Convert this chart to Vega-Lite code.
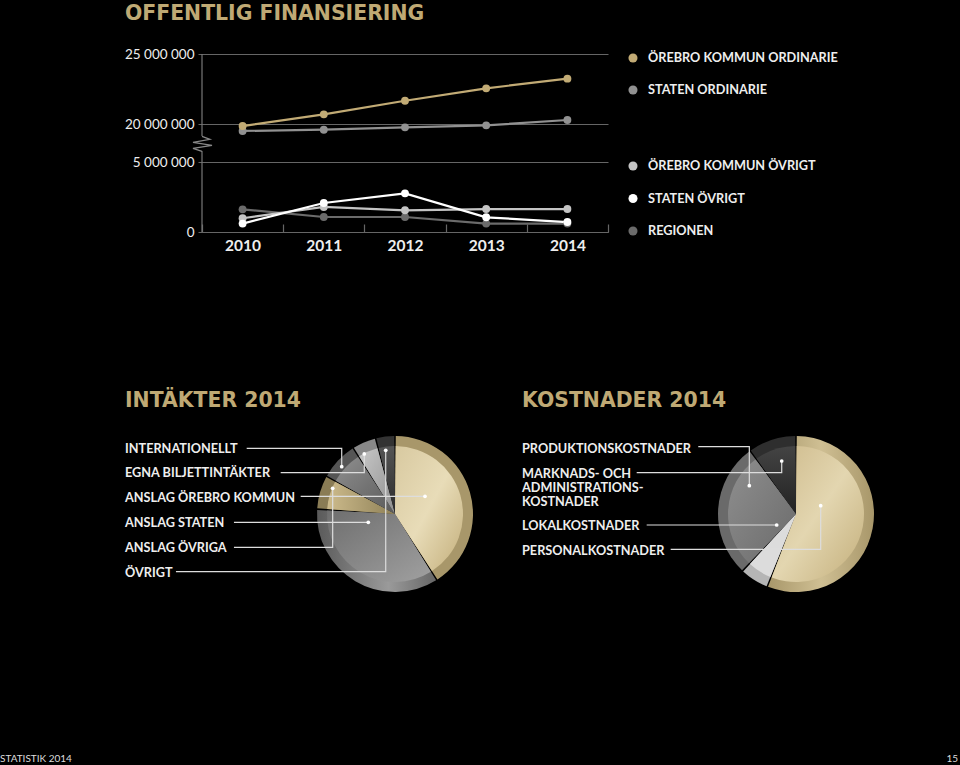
{
"$schema":"https://vega.github.io/schema/vega-lite/v6.json",
"width":960,"height":765,"padding":0,"autosize":{"type":"none","contains":"padding"},"background":"#000000",
"config":{"view":{"stroke":null},"text":{"font":"Lato"}},
"datasets":{
"series":[
{"year":"2010","series":"REGIONEN","value":1620000},{"year":"2011","series":"REGIONEN","value":1070000},{"year":"2012","series":"REGIONEN","value":1070000},{"year":"2013","series":"REGIONEN","value":600000},{"year":"2014","series":"REGIONEN","value":600000},
{"year":"2010","series":"STATEN ORDINARIE","value":19530000},{"year":"2011","series":"STATEN ORDINARIE","value":19620000},{"year":"2012","series":"STATEN ORDINARIE","value":19790000},{"year":"2013","series":"STATEN ORDINARIE","value":19930000},{"year":"2014","series":"STATEN ORDINARIE","value":20310000},
{"year":"2010","series":"ÖREBRO KOMMUN ORDINARIE","value":19880000},{"year":"2011","series":"ÖREBRO KOMMUN ORDINARIE","value":20710000},{"year":"2012","series":"ÖREBRO KOMMUN ORDINARIE","value":21680000},{"year":"2013","series":"ÖREBRO KOMMUN ORDINARIE","value":22560000},{"year":"2014","series":"ÖREBRO KOMMUN ORDINARIE","value":23250000},
{"year":"2010","series":"ÖREBRO KOMMUN ÖVRIGT","value":980000},{"year":"2011","series":"ÖREBRO KOMMUN ÖVRIGT","value":1790000},{"year":"2012","series":"ÖREBRO KOMMUN ÖVRIGT","value":1550000},{"year":"2013","series":"ÖREBRO KOMMUN ÖVRIGT","value":1640000},{"year":"2014","series":"ÖREBRO KOMMUN ÖVRIGT","value":1640000},
{"year":"2010","series":"STATEN ÖVRIGT","value":600000},{"year":"2011","series":"STATEN ÖVRIGT","value":2070000},{"year":"2012","series":"STATEN ÖVRIGT","value":2760000},{"year":"2013","series":"STATEN ÖVRIGT","value":1050000},{"year":"2014","series":"STATEN ÖVRIGT","value":710000}
],
"legend":[{"series":"ÖREBRO KOMMUN ORDINARIE","order":1},{"series":"STATEN ORDINARIE","order":2},{"series":"ÖREBRO KOMMUN ÖVRIGT","order":3},{"series":"STATEN ÖVRIGT","order":4},{"series":"REGIONEN","order":5}],
"income":[{"order":1,"label":"ANSLAG ÖREBRO KOMMUN","share":41},{"order":2,"label":"ANSLAG STATEN","share":35},{"order":3,"label":"ANSLAG ÖVRIGA","share":7},{"order":4,"label":"INTERNATIONELLT","share":8},{"order":5,"label":"EGNA BILJETTINTÄKTER","share":5},{"order":6,"label":"ÖVRIGT","share":4}],
"costs":[{"order":1,"label":"PERSONALKOSTNADER","share":56},{"order":2,"label":"LOKALKOSTNADER","share":6},{"order":3,"label":"PRODUKTIONSKOSTNADER","share":28},{"order":4,"label":"MARKNADS","share":10}],
"incomeLeaders":[
{"label":"INTERNATIONELLT","step":0,"u":-1.854,"v":-0.684},{"label":"INTERNATIONELLT","step":1,"u":-0.666,"v":-0.684},{"label":"INTERNATIONELLT","step":2,"u":-0.666,"v":-0.454,"end":true},
{"label":"EGNA","step":0,"u":-1.429,"v":-0.379},{"label":"EGNA","step":1,"u":-0.384,"v":-0.379},{"label":"EGNA","step":2,"u":-0.384,"v":-0.613,"end":true},
{"label":"ÖREBRO","step":0,"u":-1.179,"v":-0.084},{"label":"ÖREBRO","step":1,"u":0.375,"v":-0.084,"end":true},
{"label":"STATEN","step":0,"u":-2.013,"v":0.241},{"label":"STATEN","step":1,"u":-0.334,"v":0.241,"end":true},
{"label":"ÖVRIGA","step":0,"u":-2.013,"v":0.554},{"label":"ÖVRIGA","step":1,"u":-0.779,"v":0.554},{"label":"ÖVRIGA","step":2,"u":-0.779,"v":-0.184,"end":true},
{"label":"ÖVRIGT","step":0,"u":-2.738,"v":0.859},{"label":"ÖVRIGT","step":1,"u":-0.116,"v":0.859},{"label":"ÖVRIGT","step":2,"u":-0.116,"v":-0.659,"end":true}
],
"costLeaders":[
{"label":"PROD","step":0,"u":-1.234,"v":-0.704},{"label":"PROD","step":1,"u":-0.596,"v":-0.704},{"label":"PROD","step":2,"u":-0.596,"v":-0.216,"end":true},
{"label":"MARK","step":0,"u":-2.004,"v":-0.379},{"label":"MARK","step":1,"u":-0.191,"v":-0.379},{"label":"MARK","step":2,"u":-0.191,"v":-0.525,"end":true},
{"label":"LOKAL","step":0,"u":-1.879,"v":0.275},{"label":"LOKAL","step":1,"u":-0.254,"v":0.275,"end":true},
{"label":"PERS","step":0,"u":-1.579,"v":0.579},{"label":"PERS","step":1,"u":0.296,"v":0.579},{"label":"PERS","step":2,"u":0.296,"v":0.034,"end":true}
]
},
"resolve":{"scale":{"x":"independent","y":"independent","theta":"independent"},"axis":{"x":"independent","y":"independent"}},
"layer":[
{"data":{"values":[{"t":"OFFENTLIG FINANSIERING","col":0,"row":0},{"t":"INTÄKTER 2014","col":0,"row":1},{"t":"KOSTNADER 2014","col":1,"row":1}]},
 "mark":{"type":"text","align":"left","baseline":"middle","font":"DejaVu Sans","fontWeight":"bold","fontSize":20.4,"fill":"#bfa974"},
 "encoding":{"text":{"field":"t"},"x":{"field":"col","type":"quantitative","scale":{"domain":[0,1],"range":[125,522]},"axis":null},"y":{"field":"row","type":"quantitative","scale":{"domain":[0,1],"range":[14,401]},"axis":null}}},
{"layer":[
 {"data":{"values":[{"t":"STATISTIK 2014","col":0}]},
 "mark":{"type":"text","align":"left","baseline":"middle","font":"Lato","fontSize":10,"fill":"#dddddd"},
 "encoding":{"text":{"field":"t"},"x":{"field":"col","type":"quantitative","scale":{"domain":[0,1],"range":[0,958]},"axis":null},"y":{"datum":0,"type":"quantitative","scale":{"domain":[0,1],"range":[759,760]},"axis":null}}},
 {"data":{"values":[{"t":"15","col":1}]},
 "mark":{"type":"text","align":"right","baseline":"middle","font":"Lato","fontSize":10,"fill":"#dddddd"},
 "encoding":{"text":{"field":"t"},"x":{"field":"col","type":"quantitative"},"y":{"datum":0,"type":"quantitative"}}}
]},
{"layer":[
 {"data":{"name":"series"},
  "mark":{"type":"line","strokeWidth":2.2},
  "encoding":{
   "x":{"field":"year","type":"ordinal","scale":{"type":"band","range":[202,608],"paddingInner":0,"paddingOuter":0},"axis":{"title":null,"orient":"bottom","offset":-533,"labelAngle":0,"tickBand":"extent","tickSize":-8,"tickWidth":1.2,"tickColor":"#666666","domainColor":"#777777","domainWidth":1.2,"labelColor":"#eeeeee","labelFont":"Lato","labelFontWeight":"bold","labelFontSize":15.5,"labelPadding":14}},
   "y":{"field":"value","type":"quantitative","scale":{"domain":[0,5000000,18000000,25000000],"range":[232,162,152.5,54],"nice":false,"zero":false},"axis":{"title":null,"orient":"left","offset":-198,"values":[0,5000000,20000000,25000000],"domain":false,"grid":false,"tickSize":-410,"tickWidth":1.2,"tickColor":"#666666","labelExpr":"replace(format(datum.value,','),/,/g,' ')","labelColor":"#eeeeee","labelFont":"Lato","labelFontSize":13.5,"labelPadding":414}},
   "color":{"field":"series","type":"nominal","legend":null,"scale":{"domain":["ÖREBRO KOMMUN ORDINARIE","STATEN ORDINARIE","ÖREBRO KOMMUN ÖVRIGT","STATEN ÖVRIGT","REGIONEN"],"range":["#c2ab75","#919191","#c4c4c4","#ffffff","#6b6b6b"]}}}},
 {"data":{"name":"series"},
  "mark":{"type":"point","filled":true,"opacity":1,"size":62},
  "encoding":{"x":{"field":"year","type":"ordinal"},"y":{"field":"value","type":"quantitative"},"color":{"field":"series","type":"nominal","legend":null}}},
 {"data":{"values":[{"top":25000000,"bottom":19180000},{"top":18100000,"bottom":0}]},
  "mark":{"type":"rule","stroke":"#777777","strokeWidth":1.2},
  "encoding":{"x":{"datum":"2010","type":"ordinal","bandPosition":0},"y":{"field":"top","type":"quantitative"},"y2":{"field":"bottom"}}},
 {"data":{"values":[{"value":18650000}]},
  "mark":{"type":"point","filled":false,"opacity":1,"size":400,"stroke":"#888888","strokeWidth":1.2,"shape":"M0,-0.7L0.8,-0.4L-0.9,-0.1L1,0.2L-0.9,0.5L0,0.8"},
  "encoding":{"x":{"datum":"2010","type":"ordinal","bandPosition":0},"y":{"field":"value","type":"quantitative"}}}
]},
{"layer":[
 {"data":{"name":"legend"},
  "mark":{"type":"point","filled":true,"opacity":1,"size":82},
  "encoding":{"x":{"datum":0,"type":"quantitative","scale":{"domain":[0,1],"range":[633,648]},"axis":null},
   "y":{"field":"order","type":"quantitative","scale":{"domain":[1,2,3,4,5],"range":[58,90,166,198.5,231],"nice":false,"zero":false},"axis":null},
   "fill":{"field":"series","type":"nominal","legend":null,"scale":{"domain":["ÖREBRO KOMMUN ORDINARIE","STATEN ORDINARIE","ÖREBRO KOMMUN ÖVRIGT","STATEN ÖVRIGT","REGIONEN"],"range":["#c2ab75","#919191","#c4c4c4","#ffffff","#6b6b6b"]}}}},
 {"data":{"name":"legend"},
  "mark":{"type":"text","align":"left","baseline":"middle","font":"Lato","fontWeight":"bold","fontSize":12.7,"fill":"#eeeeee"},
  "encoding":{"text":{"field":"series"},"x":{"datum":1,"type":"quantitative"},"y":{"field":"order","type":"quantitative"}}}
]},
{"layer":[
 {"data":{"name":"income"},
  "mark":{"type":"arc","outerRadius":78,"padAngle":0.02},
  "encoding":{
   "theta":{"field":"share","type":"quantitative","stack":true,"scale":{"domain":[0,100]}},
   "order":{"field":"order"},"detail":{"field":"label"},
   "x":{"datum":0,"type":"quantitative","scale":{"domain":[0,1],"range":[395,396]},"axis":null},
   "y":{"datum":0,"type":"quantitative","scale":{"domain":[0,1],"range":[514,515]},"axis":null},
   "fill":{"condition":[{"test":"datum.order==1","value":"#a8976a"},{"test":"datum.order==2","value":{"x1":0,"x2":1,"y1":0,"y2":0,"gradient":"linear","stops":[{"offset":0,"color":"#5a5a5a"},{"offset":0.6,"color":"#9a9a9a"},{"offset":1,"color":"#666666"}]}},{"test":"datum.order==3","value":"#8a7c55"},{"test":"datum.order==4","value":"#555555"},{"test":"datum.order==5","value":"#888888"}],"value":"#333333"}}},
 {"data":{"name":"income"},
  "mark":{"type":"arc","outerRadius":68,"padAngle":0.02},
  "encoding":{
   "theta":{"field":"share","type":"quantitative","stack":true,"scale":{"domain":[0,100]}},
   "order":{"field":"order"},"detail":{"field":"label"},
   "x":{"datum":0,"type":"quantitative","scale":{"domain":[0,1],"range":[395,396]},"axis":null},
   "y":{"datum":0,"type":"quantitative","scale":{"domain":[0,1],"range":[506,507]},"axis":null},
   "fill":{"condition":[{"test":"datum.order==1","value":{"x1":0,"x2":1,"y1":0,"y2":1,"gradient":"linear","stops":[{"offset":0,"color":"#d8c9a0"},{"offset":0.5,"color":"#e8dcb8"},{"offset":1,"color":"#c3ae7a"}]}},{"test":"datum.order==2","value":{"x1":0,"x2":1,"y1":0,"y2":1,"gradient":"linear","stops":[{"offset":0,"color":"#6e6e6e"},{"offset":1,"color":"#a0a0a0"}]}},{"test":"datum.order==3","value":{"x1":0,"x2":1,"y1":0,"y2":0,"gradient":"linear","stops":[{"offset":0,"color":"#cdbb8c"},{"offset":1,"color":"#8f8157"}]}},{"test":"datum.order==4","value":{"x1":0,"x2":1,"y1":0,"y2":1,"gradient":"linear","stops":[{"offset":0,"color":"#8f8f8f"},{"offset":1,"color":"#5a5a5a"}]}},{"test":"datum.order==5","value":{"x1":0,"x2":1,"y1":0,"y2":1,"gradient":"linear","stops":[{"offset":0,"color":"#c8c8c8"},{"offset":1,"color":"#8f8f8f"}]}}],"value":{"x1":0,"x2":0,"y1":0,"y2":1,"gradient":"linear","stops":[{"offset":0,"color":"#555555"},{"offset":1,"color":"#2a2a2a"}]}}}}
]},
{"layer":[
 {"data":{"name":"costs"},
  "mark":{"type":"arc","outerRadius":78,"padAngle":0.02},
  "encoding":{
   "theta":{"field":"share","type":"quantitative","stack":true,"scale":{"domain":[0,100]}},
   "order":{"field":"order"},"detail":{"field":"label"},
   "x":{"datum":0,"type":"quantitative","scale":{"domain":[0,1],"range":[796,797]},"axis":null},
   "y":{"datum":0,"type":"quantitative","scale":{"domain":[0,1],"range":[514,515]},"axis":null},
   "fill":{"condition":[{"test":"datum.order==1","value":{"x1":0,"x2":1,"y1":0,"y2":0,"gradient":"linear","stops":[{"offset":0,"color":"#a8976a"},{"offset":0.5,"color":"#cfbf93"},{"offset":1,"color":"#a8976a"}]}},{"test":"datum.order==2","value":"#b5b5b5"},{"test":"datum.order==3","value":"#6a6a6a"}],"value":"#2e2e2e"}}},
 {"data":{"name":"costs"},
  "mark":{"type":"arc","outerRadius":68,"padAngle":0.02},
  "encoding":{
   "theta":{"field":"share","type":"quantitative","stack":true,"scale":{"domain":[0,100]}},
   "order":{"field":"order"},"detail":{"field":"label"},
   "x":{"datum":0,"type":"quantitative","scale":{"domain":[0,1],"range":[796,797]},"axis":null},
   "y":{"datum":0,"type":"quantitative","scale":{"domain":[0,1],"range":[506,507]},"axis":null},
   "fill":{"condition":[{"test":"datum.order==1","value":{"x1":0,"x2":1,"y1":0,"y2":1,"gradient":"linear","stops":[{"offset":0,"color":"#cdb98a"},{"offset":0.5,"color":"#e3d6b0"},{"offset":1,"color":"#c3ae7a"}]}},{"test":"datum.order==2","value":"#dcdcdc"},{"test":"datum.order==3","value":{"x1":0,"x2":1,"y1":0,"y2":1,"gradient":"linear","stops":[{"offset":0,"color":"#8f8f8f"},{"offset":1,"color":"#6a6a6a"}]}}],"value":{"x1":0,"x2":0,"y1":0,"y2":1,"gradient":"linear","stops":[{"offset":0,"color":"#444444"},{"offset":1,"color":"#222222"}]}}}}
]},
{"layer":[
 {"data":{"values":[{"t":"INTERNATIONELLT","order":1},{"t":"EGNA BILJETTINTÄKTER","order":2},{"t":"ANSLAG ÖREBRO KOMMUN","order":3},{"t":"ANSLAG STATEN","order":4},{"t":"ANSLAG ÖVRIGA","order":5},{"t":"ÖVRIGT","order":6}]},
  "mark":{"type":"text","align":"left","baseline":"middle","font":"Lato","fontWeight":"bold","fontSize":12.7,"fill":"#eeeeee"},
  "encoding":{"text":{"field":"t"},"x":{"datum":0,"type":"quantitative","scale":{"domain":[0,1],"range":[125,522]},"axis":null},"y":{"field":"order","type":"quantitative","scale":{"domain":[1,6],"range":[448.5,572.5],"nice":false,"zero":false},"axis":null}}}
]},
{"layer":[
 {"data":{"values":[{"t":"PRODUKTIONSKOSTNADER","order":1},{"t":"MARKNADS- OCH\nADMINISTRATIONS-\nKOSTNADER","order":2},{"t":"LOKALKOSTNADER","order":3},{"t":"PERSONALKOSTNADER","order":4}]},
  "mark":{"type":"text","align":"left","baseline":"top","lineBreak":"\n","lineHeight":14,"font":"Lato","fontWeight":"bold","fontSize":12.7,"fill":"#eeeeee"},
  "encoding":{"text":{"field":"t"},"x":{"datum":1,"type":"quantitative","scale":{"domain":[0,1],"range":[125,522]},"axis":null},"y":{"field":"order","type":"quantitative","scale":{"domain":[1,2,3,4],"range":[442.5,467.5,519.5,544.5],"nice":false,"zero":false},"axis":null}}}
]},
{"layer":[
 {"data":{"name":"incomeLeaders"},
  "mark":{"type":"line","stroke":"#dddddd","strokeWidth":1.2},
  "encoding":{"x":{"field":"u","type":"quantitative","scale":{"domain":[-1,1],"range":[315,475],"nice":false},"axis":null},"y":{"field":"v","type":"quantitative","scale":{"domain":[-1,1],"range":[423,583],"nice":false},"axis":null},"detail":{"field":"label"},"order":{"field":"step"}}},
 {"data":{"name":"incomeLeaders"},"transform":[{"filter":"datum.end"}],
  "mark":{"type":"point","filled":true,"opacity":1,"size":14,"fill":"#ffffff"},
  "encoding":{"x":{"field":"u","type":"quantitative"},"y":{"field":"v","type":"quantitative"}}}
]},
{"layer":[
 {"data":{"name":"costLeaders"},
  "mark":{"type":"line","stroke":"#dddddd","strokeWidth":1.2},
  "encoding":{"x":{"field":"u","type":"quantitative","scale":{"domain":[-1,1],"range":[717,877],"nice":false},"axis":null},"y":{"field":"v","type":"quantitative","scale":{"domain":[-1,1],"range":[423,583],"nice":false},"axis":null},"detail":{"field":"label"},"order":{"field":"step"}}},
 {"data":{"name":"costLeaders"},"transform":[{"filter":"datum.end"}],
  "mark":{"type":"point","filled":true,"opacity":1,"size":14,"fill":"#ffffff"},
  "encoding":{"x":{"field":"u","type":"quantitative"},"y":{"field":"v","type":"quantitative"}}}
]}
]
}
